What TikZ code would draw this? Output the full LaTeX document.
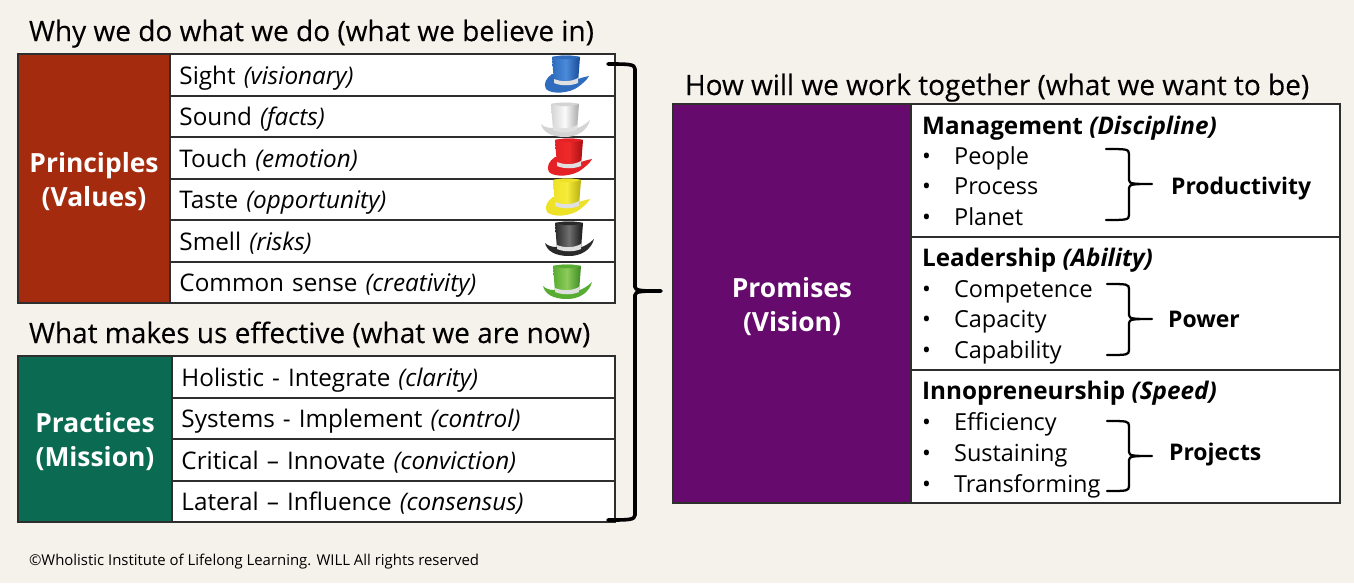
\documentclass[tikz,border=0pt]{standalone}
\usepackage{fontspec}
\setmainfont{Open Sans}
\newfontfamily\titlefont{Open Sans}[FakeBold=0.25]
\usetikzlibrary{calc}
\definecolor{bg}{HTML}{F5F2EB}
\definecolor{prin}{HTML}{A52B0E}
\definecolor{prac}{HTML}{0B6A52}
\definecolor{prom}{HTML}{660A6E}
\definecolor{edge}{HTML}{2E2E2E}
\definecolor{blA}{HTML}{4A8AD8}\definecolor{blB}{HTML}{174A96}\definecolor{blC}{HTML}{2F6CBE}
\definecolor{whA}{HTML}{FAFAFA}\definecolor{whB}{HTML}{A8A8A8}\definecolor{whC}{HTML}{D4D4D4}
\definecolor{reA}{HTML}{EE2A2A}\definecolor{reB}{HTML}{A80E12}\definecolor{reC}{HTML}{E42226}
\definecolor{yeA}{HTML}{F6EC3A}\definecolor{yeB}{HTML}{B8AE10}\definecolor{yeC}{HTML}{EEE228}
\definecolor{bkA}{HTML}{707070}\definecolor{bkB}{HTML}{151515}\definecolor{bkC}{HTML}{2A2A2A}
\definecolor{grA}{HTML}{8CCB5A}\definecolor{grB}{HTML}{3C8A22}\definecolor{grC}{HTML}{58AC32}
\tikzset{
  cell/.style={draw=edge,line width=1.5pt,fill=white,anchor=north west,inner sep=0pt,outer sep=0pt},
  rowbox/.style={cell,align=left,text width=#1*0.75pt-14.2pt,minimum height=41.5*0.75pt,font=\fontsize{18.2}{20}\selectfont,text height=14.4pt,text depth=0pt,inner xsep=7.1pt,inner ysep=0pt},
  headtext/.style={text=white,align=center,inner sep=0pt,yshift=-2.2pt,font=\fontsize{19.8}{25.5}\selectfont\bfseries},
  title/.style={anchor=west,inner sep=0pt,font=\fontsize{21}{24}\titlefont,text height=15pt,text depth=0pt},
  item/.style={anchor=west,inner sep=0pt,font=\fontsize{17.6}{20}\selectfont,text height=12.6pt,text depth=0pt},
  boldlab/.style={anchor=west,inner sep=0pt,font=\fontsize{18.2}{20}\selectfont,text height=12.9pt,text depth=0pt},
  sumlab/.style={anchor=west,inner sep=0pt,font=\fontsize{17.2}{20}\selectfont,text height=12.3pt,text depth=0pt},
  bracket/.style={draw=black,line join=round,line cap=round},
  note/.style={anchor=west,inner sep=0pt,font=\fontsize{11.2}{13}\selectfont,text height=8pt,text depth=0pt}
}
\newcommand{\roundbrim}{(-14,0) .. controls (-20,4) and (-23,10) .. (-20,15) .. controls (-14,21) and (4,19) .. (12,13) .. controls (16,10) and (21,6) .. (23,2) .. controls (18,3) and (15,4) .. (12,5) -- cycle}
\newcommand{\widebrim}{(-24,3) .. controls (-22,11) and (-14,16) .. (0,16) .. controls (12,16) and (22,10) .. (25,-1) .. controls (20,4) and (14,7) .. (12,7) -- (-12,7) .. controls (-17,7) and (-21,6) .. (-24,3) -- cycle}
% hat: x, y, light, dark, mid, brim shape
\newcommand{\tophat}[6]{%
\begin{scope}[shift={(#1,#2)}]
 \path[fill=#5] #6;
 \path[left color=#5,right color=#4,middle color=#3] (-14,-17) .. controls (-5,-19) and (5,-19) .. (14,-17) -- (12,9) .. controls (5,12) and (-5,12) .. (-12,9) -- cycle;
 \path[fill=white!88!black] (-12,5) .. controls (-5,8) and (5,8) .. (12,4) -- (12,9) .. controls (5,12) and (-5,12) .. (-12,9) -- cycle;
 \path[fill=#5] (-14,-17) .. controls (-5,-19) and (5,-19) .. (14,-17) .. controls (5,-14) and (-5,-14) .. (-14,-17) -- cycle;
\end{scope}}
\newcommand{\curlybrace}[7]{%
 \coordinate (#1a) at (#2,#5);
 \coordinate (#1b) at (#3,#5+5);
 \coordinate (#1c) at (#3,#6-4);
 \coordinate (#1t) at (#4,#6);
 \coordinate (#1d) at (#3,#6+4);
 \coordinate (#1e) at (#3,#7-5);
 \coordinate (#1f) at (#2,#7);
 \draw[bracket] (#1a) .. controls ($(#1a)+(20,0)$) and ($(#1b)+(0,-5)$) .. (#1b) -- (#1c) .. controls ($(#1c)+(0,4)$) and ($(#1t)+(-18,0)$) .. (#1t) .. controls ($(#1t)+(-18,0)$) and ($(#1d)+(0,-4)$) .. (#1d) -- (#1e) .. controls ($(#1e)+(0,5)$) and ($(#1f)+(20,0)$) .. (#1f);}
\begin{document}
\begin{tikzpicture}[x=0.75pt,y=-0.75pt,line width=1.5pt]
\useasboundingbox[fill=bg] (0,0) rectangle (1354,583);
% ---- Principles
\node[title] (t1) at (28,31) {Why we do what we do (what we believe in)};
\node[cell,fill=prin,minimum width=152*0.75pt,minimum height=249*0.75pt,label={[headtext]center:{Principles\\(Values)}}] (principles) at (18,54) {};
\node[rowbox=445,minimum width=445*0.75pt] (r1) at (170,54.0) {Sight \textit{(visionary)}};
\node[rowbox=445,minimum width=445*0.75pt] (r2) at (170,95.5) {Sound \textit{(facts)}};
\node[rowbox=445,minimum width=445*0.75pt] (r3) at (170,137.0) {Touch \textit{(emotion)}};
\node[rowbox=445,minimum width=445*0.75pt] (r4) at (170,178.5) {Taste \textit{(opportunity)}};
\node[rowbox=445,minimum width=445*0.75pt] (r5) at (170,220.0) {Smell \textit{(risks)}};
\node[rowbox=445,minimum width=445*0.75pt] (r6) at (170,261.5) {Common sense \textit{(creativity)}};
\tophat{566}{74}{blA}{blB}{blC}{\roundbrim}
\tophat{565}{121}{whA}{whB}{whC}{\widebrim}
\tophat{569}{157}{reA}{reB}{reC}{\roundbrim}
\tophat{567}{197}{yeA}{yeB}{yeC}{\roundbrim}
\tophat{569}{240}{bkA}{bkB}{bkC}{\widebrim}
\tophat{567}{283}{grA}{grB}{grC}{\widebrim}
% ---- Practices
\node[title] (t2) at (28,333) {What makes us effective (what we are now)};
\node[cell,fill=prac,minimum width=154*0.75pt,minimum height=166*0.75pt,label={[headtext]center:{Practices\\(Mission)}}] (practices) at (18,356) {};
\node[rowbox=443,minimum width=443*0.75pt] (p1) at (172,356.0) {Holistic - Integrate \textit{(clarity)}};
\node[rowbox=443,minimum width=443*0.75pt] (p2) at (172,397.5) {Systems - Implement \textit{(control)}};
\node[rowbox=443,minimum width=443*0.75pt] (p3) at (172,439.0) {Critical – Innovate \textit{(conviction)}};
\node[rowbox=443,minimum width=443*0.75pt] (p4) at (172,480.5) {Lateral – Influence \textit{(consensus)}};
% ---- big brace
\begin{scope}[line width=2.7pt]
\curlybrace{B}{608}{635}{661}{64}{291}{520}
\end{scope}
% ---- Promises
\node[title] (t3) at (684,85) {How will we work together (what we want to be)};
\node[cell,fill=prom,minimum width=238*0.75pt,minimum height=399*0.75pt,label={[headtext]center:{Promises\\(Vision)}}] (promises) at (673,104) {};
\node[cell,minimum width=429*0.75pt,minimum height=133*0.75pt] (m) at (911,104) {};
\node[cell,minimum width=429*0.75pt,minimum height=133*0.75pt] (l) at (911,237) {};
\node[cell,minimum width=429*0.75pt,minimum height=133*0.75pt] (i) at (911,370) {};
\begin{scope}[line width=1.7pt]
\node[boldlab] (mh) at (921,126) {\textbf{Management} \textbf{\textit{(Discipline)}}};
\node[item] at (921,156) {•}; \node[item] at (953,156) {People};
\node[item] at (921,186) {•}; \node[item] at (953,186) {Process};
\node[item] at (921,217) {•}; \node[item] at (953,217) {Planet};
\node[sumlab] (mp) at (1170,186) {\textbf{Productivity}};
\curlybrace{M}{1106}{1129}{1152}{149}{184}{220}
\node[boldlab] (lh) at (921,258) {\textbf{Leadership} \textbf{\textit{(Ability)}}};
\node[item] at (921,289) {•}; \node[item] at (953,289) {Competence};
\node[item] at (921,319) {•}; \node[item] at (953,319) {Capacity};
\node[item] at (921,350) {•}; \node[item] at (953,350) {Capability};
\node[sumlab] (lp) at (1167,319) {\textbf{Power}};
\curlybrace{L}{1107}{1129}{1152}{284}{319}{355}
\node[boldlab] (ih) at (921,391) {\textbf{Innopreneurship} \textbf{\textit{(Speed)}}};
\node[item] at (921,422) {•}; \node[item] at (953,422) {Efficiency};
\node[item] at (921,453) {•}; \node[item] at (953,453) {Sustaining};
\node[item] at (921,484) {•}; \node[item] at (953,484) {Transforming};
\node[sumlab] (ip) at (1168,452) {\textbf{Projects}};
\curlybrace{I}{1107}{1129}{1152}{421}{456}{491}
\end{scope}
\node[note] (c) at (28,560) {©Wholistic Institute of Lifelong Learning. WILL All rights reserved};
\end{tikzpicture}
\end{document}
